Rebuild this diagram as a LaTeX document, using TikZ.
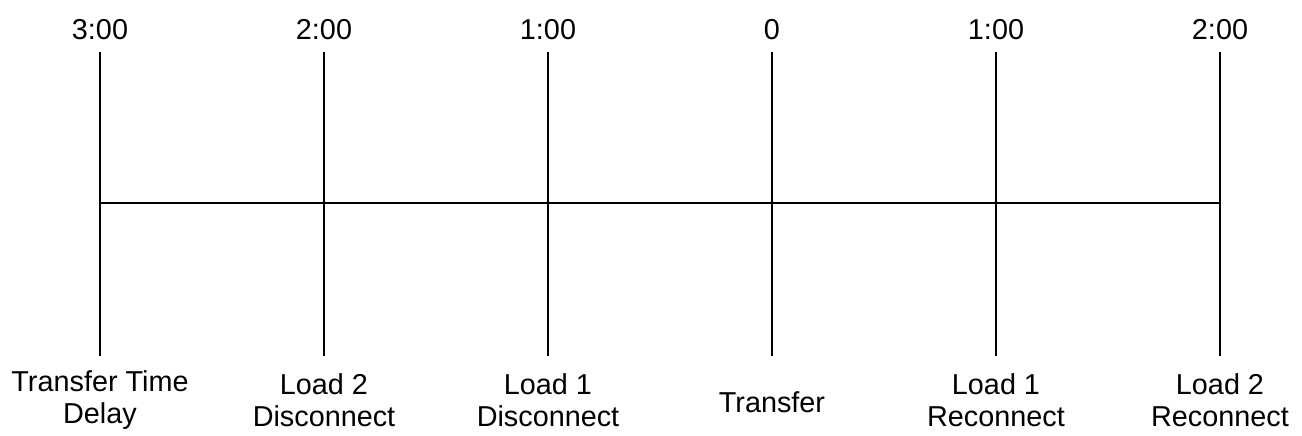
\documentclass[tikz,border=0pt]{standalone}
\usepackage{fontspec}
\setmainfont{Liberation Sans}
\begin{document}
\begin{tikzpicture}[x=1pt,y=-1pt,
  lab/.style={inner sep=0pt,align=center,font=\fontsize{28.8}{32.5}\selectfont},
  tick/.style={line width=2pt},
  axis/.style={line width=2pt}]
\useasboundingbox (0,0) rectangle (1302,436);
\foreach \i/\x/\t in {0/100/3:00,1/324/2:00,2/548/1:00,3/772/0,4/996/1:00,5/1220/2:00}{
  \coordinate (t\i) at (\x,52);
  \coordinate (b\i) at (\x,356);
  \coordinate (m\i) at (\x,203);
  \node[lab,anchor=base] (top\i) at (\x,40) {\t};
  \draw[tick] (t\i) -- (b\i);
}
\node[lab] (bl0) at (100,400) {Transfer Time\\Delay};
\node[lab] (bl1) at (324,400) {Load 2\\Disconnect};
\node[lab] (bl2) at (548,400) {Load 1\\Disconnect};
\node[lab] (bl3) at (772,402) {Transfer};
\node[lab] (bl4) at (996,400) {Load 1\\Reconnect};
\node[lab] (bl5) at (1220,400) {Load 2\\Reconnect};
\draw[axis] (m0) -- (m5);
\end{tikzpicture}
\end{document}
